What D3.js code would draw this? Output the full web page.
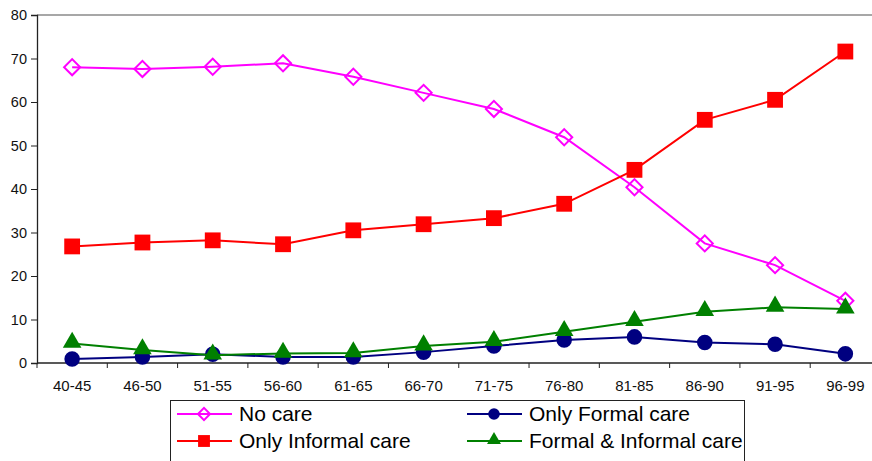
<!DOCTYPE html>
<html>
<head>
<meta charset="utf-8">
<script src="https://cdn.jsdelivr.net/npm/d3@7/dist/d3.min.js"></script>
<style>
  html, body { margin: 0; padding: 0; background: #fff; }
  svg { display: block; font-family: "Liberation Sans", Arial, sans-serif; }
</style>
</head>
<body>
<svg id="chart" width="872" height="461"></svg>
<script>
// Age groups along the x axis
const ageGroups = ["40-45", "46-50", "51-55", "56-60", "61-65", "66-70",
                   "71-75", "76-80", "81-85", "86-90", "91-95", "96-99"];

// Share of people (%) in each care situation, by age group
const noCare           = [68.0, 67.6, 68.1, 68.9, 65.8, 62.1, 58.4, 51.9, 40.4, 27.5, 22.5, 14.3];
const onlyFormal       = [0.9, 1.4, 2.0, 1.4, 1.4, 2.5, 3.9, 5.3, 6.0, 4.7, 4.3, 2.1];
const onlyInformal     = [26.8, 27.7, 28.2, 27.3, 30.5, 31.9, 33.3, 36.6, 44.4, 55.9, 60.5, 71.6];
const formalInformal   = [4.5, 3.0, 1.8, 2.2, 2.3, 3.9, 4.9, 7.2, 9.5, 11.8, 12.8, 12.4];

const yTicks = [0, 10, 20, 30, 40, 50, 60, 70, 80];

const series = [
  { name: "No care",                values: noCare,         color: "#FF00FF", symbol: "diamond" },
  { name: "Only Formal care",       values: onlyFormal,     color: "#000080", symbol: "circle" },
  { name: "Only Informal care",     values: onlyInformal,   color: "#FF0000", symbol: "square" },
  { name: "Formal & Informal care", values: formalInformal, color: "#008000", symbol: "triangle" }
];

const svg = d3.select("#chart");
const plot = { left: 37, right: 880.5, top: 15, bottom: 363 };

const x = d3.scaleBand().domain(ageGroups).range([plot.left, plot.right]);
const y = d3.scaleLinear().domain([0, 80]).range([plot.bottom, plot.top]);

// Plot area top border
svg.append("line")
  .attr("x1", plot.left).attr("x2", plot.right)
  .attr("y1", plot.top).attr("y2", plot.top)
  .attr("stroke", "#8a8a8a").attr("stroke-width", 1.5);

// Y axis
const yAxis = svg.append("g")
  .attr("transform", `translate(${plot.left},0)`)
  .call(d3.axisLeft(y).tickValues(yTicks).tickSize(6).tickPadding(4).tickFormat(d3.format("d")));
yAxis.select(".domain").attr("stroke", "#222").attr("stroke-width", 1.3);
yAxis.selectAll(".tick line").attr("stroke", "#222");
yAxis.selectAll("text").attr("font-size", 14.5).attr("fill", "#111")
  .attr("font-family", "'Liberation Sans', Arial, sans-serif");

// X axis: ticks between categories
const xAxis = svg.append("g").attr("transform", `translate(0,${plot.bottom})`);
xAxis.append("line")
  .attr("x1", plot.left).attr("x2", plot.right)
  .attr("stroke", "#222").attr("stroke-width", 1.3);
xAxis.selectAll("line.tk")
  .data(ageGroups)
  .join("line").attr("class", "tk")
  .attr("x1", d => x(d)).attr("x2", d => x(d))
  .attr("y1", 0).attr("y2", 5)
  .attr("stroke", "#222");
xAxis.selectAll("text")
  .data(ageGroups)
  .join("text")
  .attr("x", d => x(d) + x.bandwidth() / 2)
  .attr("y", 28)
  .attr("text-anchor", "middle")
  .attr("font-size", 15)
  .attr("fill", "#111")
  .text(d => d);

// Marker shapes
function drawMarker(sel, s, scale) {
  const k = scale || 1;
  if (s.symbol === "diamond") {
    sel.append("path")
      .attr("d", d3.symbol(d3.symbolSquare, 130 * k * k)())
      .attr("transform", "rotate(45)")
      .attr("fill", "none").attr("stroke", s.color).attr("stroke-width", 2);
  } else if (s.symbol === "circle") {
    sel.append("path")
      .attr("d", d3.symbol(d3.symbolCircle, 190 * k * k)())
      .attr("fill", s.color);
  } else if (s.symbol === "square") {
    sel.append("path")
      .attr("d", d3.symbol(d3.symbolSquare, 250 * k * k)())
      .attr("fill", s.color);
  } else {
    sel.append("path")
      .attr("d", d3.symbol(d3.symbolTriangle, 150 * k * k)())
      .attr("transform", "translate(0,-1)")
      .attr("fill", s.color);
  }
}

const line = d3.line()
  .x((d, i) => x(ageGroups[i]) + x.bandwidth() / 2)
  .y(d => y(d));

series.forEach(s => {
  const g = svg.append("g");
  g.append("path")
    .datum(s.values)
    .attr("d", line)
    .attr("fill", "none")
    .attr("stroke", s.color)
    .attr("stroke-width", 2);
  s.values.forEach((v, i) => {
    const m = g.append("g")
      .attr("transform", `translate(${x(ageGroups[i]) + x.bandwidth() / 2},${y(v)})`);
    drawMarker(m, s);
  });
});

// Legend
const legend = svg.append("g");
legend.append("rect")
  .attr("x", 170.5).attr("y", 400.5)
  .attr("width", 574).attr("height", 80)
  .attr("fill", "#fff").attr("stroke", "#222").attr("stroke-width", 1);

const legendPos = [
  { x: 177, y: 414 }, { x: 467, y: 414 },
  { x: 177, y: 441 }, { x: 467, y: 441 }
];
series.forEach((s, i) => {
  const p = legendPos[i];
  const g = legend.append("g").attr("transform", `translate(${p.x},${p.y})`);
  g.append("line").attr("x1", 0).attr("x2", 55)
    .attr("stroke", s.color).attr("stroke-width", 2);
  const m = g.append("g").attr("transform", "translate(27,0)");
  drawMarker(m, s, 0.75);
  g.append("text")
    .attr("x", 62).attr("y", 0).attr("dy", "0.35em")
    .attr("font-size", 21).attr("fill", "#000")
    .text(s.name);
});
</script>
</body>
</html>
